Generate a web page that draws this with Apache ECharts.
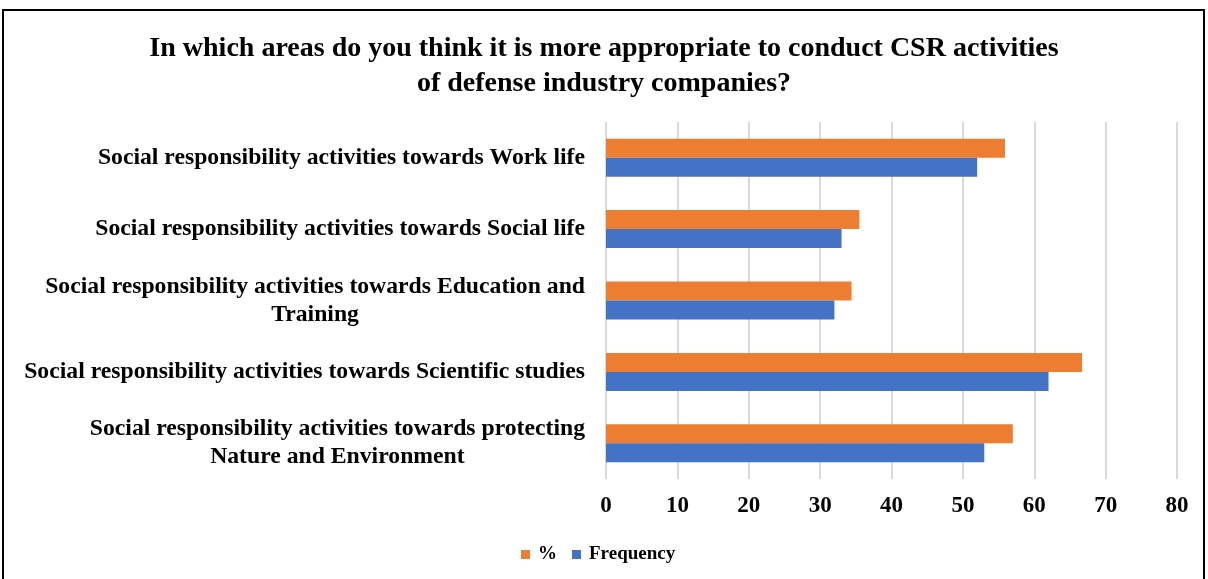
<!DOCTYPE html>
<html>
<head>
<meta charset="utf-8">
<script src="https://cdn.jsdelivr.net/npm/echarts@6/dist/echarts.min.js"></script>
<style>
html, body { margin: 0; padding: 0; background: #fff; overflow: hidden; }
#chart { width: 1208px; height: 579px; }
#frame { position: absolute; left: 2px; top: 9px; width: 1199px; height: 620px; border: 2px solid #000; pointer-events: none; }
</style>
</head>
<body>
<div id="chart"></div>
<div id="frame"></div>
<script>
// categories from top to bottom as in the picture
let categories = [
  'Social responsibility activities towards Work life',
  'Social responsibility activities towards Social life',
  'Social responsibility activities towards Education and\nTraining',
  'Social responsibility activities towards Scientific studies',
  'Social responsibility activities towards protecting\nNature and Environment'
]
let percent = [55.9, 35.5, 34.4, 66.7, 57.0]
let frequency = [52, 33, 32, 62, 53]
let xTicks = [0, 10, 20, 30, 40, 50, 60, 70, 80]

const serif = '"Liberation Serif", "Times New Roman", serif'
var myChart = echarts.init(document.getElementById('chart'))

// y category axis runs bottom-up, so reverse the lists
let yData = categories.slice().reverse()
let pctData = percent.slice().reverse()
let freqData = frequency.slice().reverse()

let option = {
  animation: false,
  title: {
    text: 'In which areas do you think it is more appropriate to conduct CSR activities\nof defense industry companies?',
    left: 'center',
    top: 26,
    textStyle: {
      fontFamily: serif,
      fontWeight: 'bold',
      fontSize: 28,
      lineHeight: 35,
      color: '#000'
    }
  },
  legend: {
    left: 516,
    top: 540,
    icon: 'rect',
    itemWidth: 9,
    itemHeight: 9,
    itemGap: 15,
    data: ['%', 'Frequency'],
    textStyle: {
      fontFamily: serif,
      fontWeight: 'bold',
      fontSize: 19,
      color: '#000',
      padding: [0, 0, 0, 3]
    }
  },
  grid: {
    left: 606,
    right: 31,
    top: 122,
    bottom: 100,
    containLabel: false
  },
  xAxis: {
    type: 'value',
    min: xTicks[0],
    max: xTicks[xTicks.length - 1],
    interval: 10,
    axisLine: { show: false },
    axisTick: { show: false },
    splitLine: { lineStyle: { color: '#d9d9d9', width: 2 } },
    axisLabel: {
      margin: 16,
      fontFamily: serif,
      fontWeight: 'bold',
      fontSize: 23,
      color: '#000'
    }
  },
  yAxis: {
    type: 'category',
    data: yData,
    axisLine: { show: false },
    axisTick: { show: false },
    axisLabel: {
      margin: 21,
      align: 'right',
      formatter: function (value) {
        return value.split('\n').map(s => '{c|' + s + '}').join('\n')
      },
      rich: {
        c: {
          align: 'center',
          fontFamily: serif,
          fontWeight: 'bold',
          fontSize: 23.7,
          lineHeight: 28,
          color: '#000'
        }
      }
    }
  },
  series: [
    {
      name: '%',
      type: 'bar',
      data: pctData,
      barWidth: 19,
      barGap: '0%',
      itemStyle: { color: '#ED7D31' }
    },
    {
      name: 'Frequency',
      type: 'bar',
      data: freqData,
      barWidth: 19,
      barGap: '0%',
      itemStyle: { color: '#4472C4' }
    }
  ]
}

myChart.setOption(option)
</script>
</body>
</html>
